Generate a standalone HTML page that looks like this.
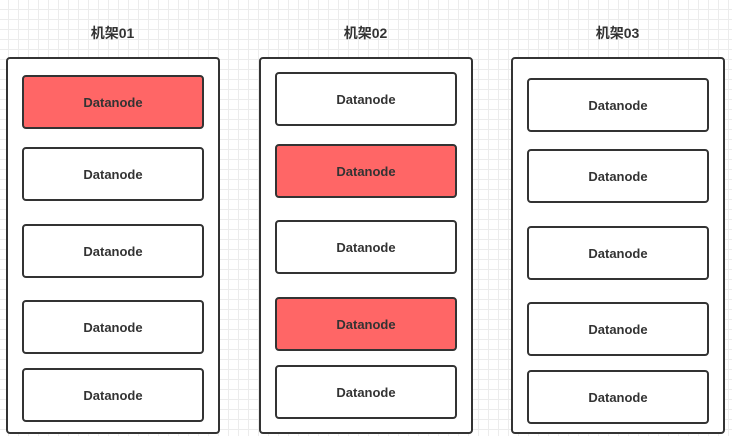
<!DOCTYPE html>
<html><head><meta charset="utf-8"><style>
body{margin:0;width:732px;height:436px;overflow:hidden;background-color:#fff;
background-image:linear-gradient(#ececec 1px,transparent 1px),linear-gradient(90deg,#ececec 1px,transparent 1px);
background-size:10px 10px;background-position:-2px -1px;position:relative;font-family:"Liberation Sans","Noto Sans CJK SC",sans-serif;}
.rack{position:absolute;box-sizing:border-box;border:2px solid #333;border-radius:4px;background:#fff;}
.lbl{position:absolute;width:213px;text-align:center;font-weight:bold;font-size:14px;color:#333;top:23px;}
.node{position:absolute;box-sizing:border-box;width:182px;height:54px;border:2px solid #333;border-radius:4px;background:#fff;
display:flex;align-items:center;justify-content:center;font-weight:bold;font-size:13px;color:#333;}
.red{background:#ff6666;}
</style></head><body>
<div class="lbl" style="left:6px">机架01</div>
<div class="lbl" style="left:259px">机架02</div>
<div class="lbl" style="left:511px">机架03</div>
<div class="rack" style="left:6px;top:57px;width:214px;height:377px"></div>
<div class="rack" style="left:259px;top:57px;width:214px;height:377px"></div>
<div class="rack" style="left:511px;top:57px;width:214px;height:377px"></div>

<div class="node red" style="left:22px;top:75px">Datanode</div>
<div class="node" style="left:22px;top:147px">Datanode</div>
<div class="node" style="left:22px;top:224px">Datanode</div>
<div class="node" style="left:22px;top:300px">Datanode</div>
<div class="node" style="left:22px;top:368px">Datanode</div>

<div class="node" style="left:275px;top:72px">Datanode</div>
<div class="node red" style="left:275px;top:144px">Datanode</div>
<div class="node" style="left:275px;top:220px">Datanode</div>
<div class="node red" style="left:275px;top:297px">Datanode</div>
<div class="node" style="left:275px;top:365px">Datanode</div>

<div class="node" style="left:527px;top:78px">Datanode</div>
<div class="node" style="left:527px;top:149px">Datanode</div>
<div class="node" style="left:527px;top:226px">Datanode</div>
<div class="node" style="left:527px;top:302px">Datanode</div>
<div class="node" style="left:527px;top:370px">Datanode</div>
</body></html>
